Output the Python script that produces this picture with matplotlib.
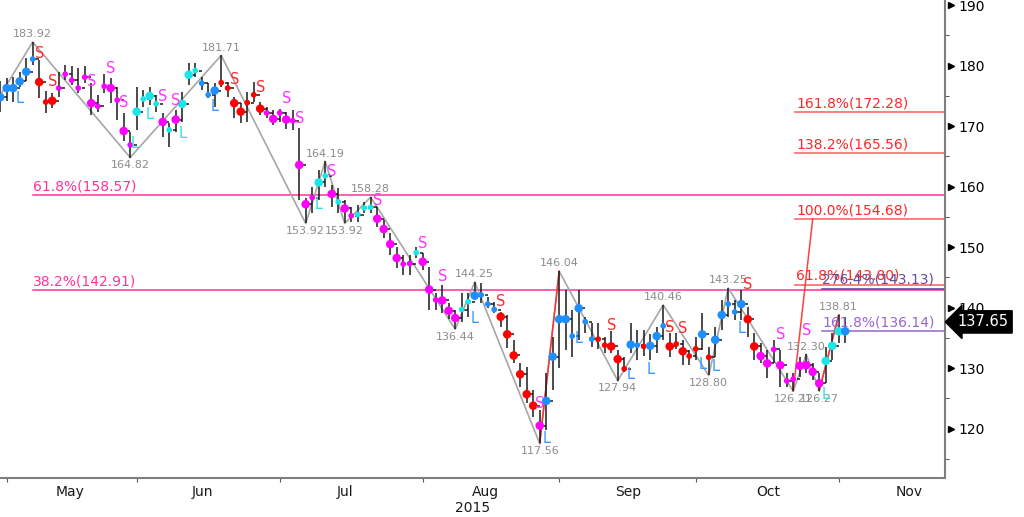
import numpy as np
import matplotlib
matplotlib.use("Agg")
import matplotlib.pyplot as plt
import matplotlib.transforms as mtransforms

# ========== Data ==========
# one bar per trading day, day 0 = May 1 2015
DAY = list(range(-1, 130))

HIGH = [177.4, 177.9, 178.2, 179.0, 181.2, 183.92, 180.9, 175.9, 175.5, 179.0,
        180.1, 179.9, 179.6, 179.9, 177.1, 175.2, 178.7, 177.9, 176.4, 172.1,
        169.0, 176.5, 176.0, 176.5, 175.2, 172.1, 170.5, 172.6, 175.7, 180.4,
        180.4, 178.1, 177.1, 177.1, 181.71, 177.3, 174.8, 173.8, 175.7, 177.3,
        174.0, 173.2, 172.6, 172.9, 172.3, 172.6, 169.7, 158.1, 160.0, 162.7,
        164.19, 160.3, 159.8, 157.8, 156.7, 157.0, 157.5, 158.28, 156.6, 154.5,
        152.3, 150.0, 148.7, 148.7, 150.0, 149.0, 146.7, 142.4, 143.7, 140.7,
        139.6, 142.4, 142.4, 144.25, 144.0, 141.8, 140.9, 139.3, 138.8, 134.6,
        130.8, 130.2, 126.4, 123.1, 129.2, 135.2, 146.04, 142.9, 139.6, 142.9,
        138.5, 137.5, 137.5, 135.2, 136.2, 133.0, 131.9, 137.5, 136.3, 136.3,
        135.6, 136.8, 140.46, 135.8, 135.8, 134.6, 133.0, 135.2, 139.1, 133.5,
        136.8, 141.3, 143.25, 141.3, 142.9, 140.1, 135.8, 134.1, 133.0, 134.6,
        133.0, 129.2, 129.2, 131.9, 132.30, 130.8, 129.2, 133.5, 135.8, 138.81,
        138.5]

LOW = [172.4, 174.1, 174.0, 176.5, 177.4, 180.1, 174.6, 172.2, 173.0, 174.9,
       177.6, 176.8, 175.5, 177.1, 171.9, 172.3, 175.5, 173.9, 171.0, 167.6,
       164.82, 169.4, 173.2, 173.5, 172.3, 168.2, 166.6, 169.0, 170.7, 176.8,
       178.1, 176.0, 174.6, 173.2, 176.5, 174.8, 171.3, 170.5, 170.7, 174.0,
       171.9, 171.3, 170.2, 170.7, 169.6, 169.3, 157.8, 153.92, 155.6, 157.8,
       160.0, 156.6, 155.6, 153.92, 154.2, 154.2, 155.6, 155.6, 153.3, 151.5,
       148.7, 146.5, 145.4, 145.4, 148.2, 146.2, 139.6, 139.6, 139.1, 138.2,
       136.44, 137.6, 138.4, 141.3, 140.7, 139.9, 139.1, 136.8, 133.3, 130.8,
       126.9, 124.2, 121.9, 117.56, 119.8, 126.4, 130.0, 133.0, 131.9, 134.6,
       135.8, 133.5, 133.1, 132.5, 132.5, 127.94, 129.4, 132.5, 131.3, 132.0,
       131.3, 132.5, 134.7, 131.9, 133.2, 130.5, 130.5, 131.3, 133.0, 128.80,
       131.9, 136.3, 138.4, 138.0, 138.0, 135.2, 131.3, 130.8, 128.4, 130.8,
       126.9, 126.9, 126.21, 128.5, 129.2, 128.0, 126.27, 127.5, 131.3, 134.1,
       134.1]

CLOSE = [174.8, 176.3, 176.3, 177.4, 179.0, 181.1, 177.3, 174.0, 174.2, 176.3,
         178.6, 177.6, 176.3, 178.1, 173.8, 173.3, 176.6, 176.3, 174.3, 169.2,
         166.9, 172.4, 174.5, 175.0, 173.7, 170.7, 169.4, 171.1, 173.7, 178.5,
         179.2, 177.1, 175.2, 175.9, 177.2, 176.3, 173.8, 172.4, 173.9, 175.2,
         172.9, 172.2, 171.2, 172.2, 171.1, 170.9, 163.6, 157.1, 158.2, 160.7,
         161.8, 158.8, 157.5, 156.4, 155.2, 155.4, 156.5, 156.6, 154.7, 153.0,
         150.5, 148.2, 147.2, 147.3, 149.1, 147.6, 143.0, 141.3, 141.2, 139.5,
         138.3, 139.7, 141.0, 142.0, 142.1, 140.6, 139.7, 138.5, 135.6, 132.1,
         129.0, 125.7, 123.8, 120.5, 124.6, 131.9, 138.1, 138.1, 135.3, 139.9,
         137.7, 134.8, 134.8, 133.8, 133.6, 131.5, 129.9, 133.9, 133.8, 133.6,
         133.7, 135.3, 137.0, 133.6, 134.0, 132.8, 132.0, 133.2, 135.6, 131.8,
         134.7, 138.8, 140.6, 139.3, 140.6, 138.1, 133.6, 132.0, 130.8, 133.1,
         130.5, 127.9, 128.2, 130.4, 130.5, 129.4, 127.5, 131.2, 133.7, 136.1,
         136.1]

DOT_COLOR = list("bbbbbb" "rrr" "mmmmmmmmmmmm" "cccc" "mcmccc" "bbb" "rrrrrrr"
                 "mmmmmmmm" "ccmcmmccc" "mmmmmm" "c" "mmmmmm" "cc" "bbbb"
                 "rrrrrr" "m" "bbbbbbbb" "rrrrr" "bbrbbb" "rrrrr" "brbbbbb"
                 "rr" "mmmmmmmmmm" "ccc" "b")
DOT_BIG = list("111110" "101" "000001001010" "1010" "101110" "001" "0011001"
               "01010110" "101010000" "111100" "0" "110111" "00" "1000"
               "111111" "1" "11110100" "00110" "100110" "10100" "1011001"
               "11" "1101001111" "111" "1")

# swing points of the zigzag
PIVOT_DAY = [-1, 4, 19, 33, 46, 49, 52, 56, 69, 72, 82, 85, 94, 101, 108, 111,
             121, 123, 125, 128]
PIVOT_PRICE = [175.1, 183.92, 164.82, 181.71, 153.92, 164.19, 153.92, 158.28,
               136.44, 144.25, 117.56, 146.04, 127.94, 140.46, 128.80, 143.25,
               126.21, 132.30, 126.27, 138.81]

# S / L signal letters
SIG_DAY = [2, 5, 7, 13, 16, 18, 19.7, 22, 24, 26, 27, 32, 35, 39, 43, 45, 48,
           50, 57, 64, 67, 72, 76, 82, 83, 88, 93, 96, 99, 102, 104, 107, 109,
           113, 114, 119, 123, 126]
SIG_PRICE = [174.6, 182.0, 177.4, 177.4, 179.6, 174.0, 167.1, 171.9, 174.9,
             174.3, 168.8, 173.2, 177.8, 176.4, 174.6, 171.3, 157.0, 162.5,
             157.8, 150.6, 145.1, 138.2, 141.0, 124.2, 118.3, 134.9, 137.1,
             128.9, 129.8, 136.8, 136.5, 130.6, 130.3, 136.6, 143.9, 135.6,
             136.3, 125.7]
SIG_TEXT = list("LSSSSSLLSSLLSSSSLSSSSLSSLLSLLSSLLLSSSL")
SIG_COLOR = list("brrmmmccmmcbrrmmcmmmmbrmbbrbbrrbbbrmmc")

# fibonacci levels
RETR_LABELS = ["61.8%(158.57)", "38.2%(142.91)"]
RETR_LEVELS = [158.57, 142.91]
EXT_LABELS = ["161.8%(172.28)", "138.2%(165.56)", "100.0%(154.68)", "61.8%(143.80)"]
EXT_LEVELS = [172.28, 165.56, 154.68, 143.80]
EXT2_LABELS = ["276.4%(143.13)", "161.8%(136.14)"]
EXT2_LEVELS = [143.13, 136.14]

LAST_PRICE = 137.65

MONTHS = ["May", "Jun", "Jul", "Aug", "Sep", "Oct", "Nov"]
MONTH_START = [0, 20, 42, 64, 85, 106, 128]
MONTH_MID = [9.7, 30.1, 52.0, 73.6, 95.6, 117.1, 138.8]

# ========== Style ==========
COLORS = {"b": "#1e8fff", "r": "#ff0000", "m": "#ff00ff", "c": "#19e6e6"}
SIG_COLORS = {"b": "#3399ff", "r": "#ff2a2a", "m": "#ff33ff", "c": "#2ee0e0"}
PINK = "#ff3399"
SALMON_LINE = "#ff7373"
SALMON_TEXT = "#ff2626"

# ========== Plot ==========
fig = plt.figure(figsize=(10.24, 5.17), dpi=100)
ax = fig.add_axes([0, 39 / 517, 945 / 1024, 478 / 517])
ax.set_xlim(-1.03, 144.35)
ax.set_ylim(111.85, 190.86)

x = np.array(DAY, dtype=float)
close = np.array(CLOSE)
prev_close = np.concatenate([[close[0]], close[:-1]])

# zigzag
ax.plot(PIVOT_DAY, PIVOT_PRICE, color="#a6a6a6", lw=1.2, zorder=2)
ax.plot([82, 85], [117.56, 146.04], color="#ff3030", lw=1.1, zorder=2)
ax.plot([125, 128], [126.27, 138.81], color="#ff3030", lw=1.1, zorder=2)
ax.plot([121, 124], [126.21, 154.68], color="#ff4040", lw=1.1, zorder=2)

# bars
ax.vlines(x, LOW, HIGH, color="#1a1a1a", lw=1.1, zorder=3)
ax.hlines(close, x, x + 0.45, color="#1a1a1a", lw=1.1, zorder=3)
ax.hlines(prev_close, x - 0.45, x, color="#1a1a1a", lw=1.1, zorder=3)

# dots
sizes = [38 if b == "1" else 17 for b in DOT_BIG]
ax.scatter(x, close, s=sizes, c=[COLORS[k] for k in DOT_COLOR],
           edgecolors="none", zorder=4)

# pivot labels
for i, (d, p) in enumerate(zip(PIVOT_DAY, PIVOT_PRICE)):
    if i == 0:
        continue
    high = p > PIVOT_PRICE[i - 1]
    ax.annotate(f"{p:.2f}", (d, p), xytext=(0, 2 if high else -2),
                textcoords="offset points", ha="center",
                va="bottom" if high else "top", fontsize=8, color="#8c8c8c",
                zorder=5)

# signal letters
for d, p, t, c in zip(SIG_DAY, SIG_PRICE, SIG_TEXT, SIG_COLOR):
    ax.text(d, p, t, ha="center", va="center", fontsize=10.5,
            color=SIG_COLORS[c], zorder=6)

# retracement lines
for lab, lev in zip(RETR_LABELS, RETR_LEVELS):
    ax.plot([4, 145], [lev, lev], color=PINK, lw=1.1, zorder=1)
    ax.text(4.05, lev + 0.3, lab, color=PINK, fontsize=10, va="bottom", ha="left")

# extension lines
for lab, lev in zip(EXT_LABELS, EXT_LEVELS):
    ax.plot([121.2, 145], [lev, lev], color=SALMON_LINE, lw=1.3, zorder=1)
    ax.text(121.5, lev + 0.3, lab, color=SALMON_TEXT, fontsize=10, va="bottom",
            ha="left", zorder=6)

ax.plot([125.4, 145], [EXT2_LEVELS[0]] * 2, color="#5b4fa0", lw=1.2, zorder=1)
ax.text(125.5, EXT2_LEVELS[0] + 0.3, EXT2_LABELS[0], color="#5b4fa0",
        fontsize=10, va="bottom", ha="left", zorder=6)
ax.plot([125.4, 145], [EXT2_LEVELS[1]] * 2, color="#a070d0", lw=1.2, zorder=1)
ax.text(125.5, EXT2_LEVELS[1] + 0.3, EXT2_LABELS[1], color="#9a66cc",
        fontsize=10, va="bottom", ha="left", zorder=6)

# axes styling
for s in ["top", "left"]:
    ax.spines[s].set_visible(False)
for s in ["right", "bottom"]:
    ax.spines[s].set_color("#7f7f7f")
    ax.spines[s].set_linewidth(1.5)

ax.yaxis.tick_right()
ax.set_yticks(range(120, 191, 10))
ax.set_yticks(range(115, 191, 10), minor=True)
ax.tick_params(axis="y", which="major", length=0, pad=10, labelsize=10,
               labelcolor="black")
ax.tick_params(axis="y", which="minor", length=3, color="#333333", direction="out")
tri = mtransforms.blended_transform_factory(ax.transAxes, ax.transData)
ax.plot([1.006] * 8, list(range(120, 191, 10)), ls="none", marker=">", ms=4.5,
        color="black", transform=tri, clip_on=False)

ax.set_xticks(MONTH_START)
ax.set_xticklabels([])
ax.set_xticks(MONTH_MID, minor=True)
ax.set_xticklabels(MONTHS, minor=True)
ax.tick_params(axis="x", which="major", length=3, color="#555555", direction="out")
ax.tick_params(axis="x", which="minor", length=0, pad=5, labelsize=10,
               labelcolor="#1a1a1a")
ax.text(71.7, -0.062, "2015", transform=mtransforms.blended_transform_factory(
    ax.transData, ax.transAxes), ha="center", va="center", fontsize=10,
    color="#1a1a1a")

# last price box
ax.annotate(f"{LAST_PRICE:.2f}", (1.0, LAST_PRICE), xycoords=tri,
            xytext=(9, 0), textcoords="offset points", ha="left", va="center",
            fontsize=10.5, color="white", annotation_clip=False,
            bbox=dict(boxstyle="larrow,pad=0.25", fc="black", ec="black"))

fig.savefig("out.png", dpi=100)
